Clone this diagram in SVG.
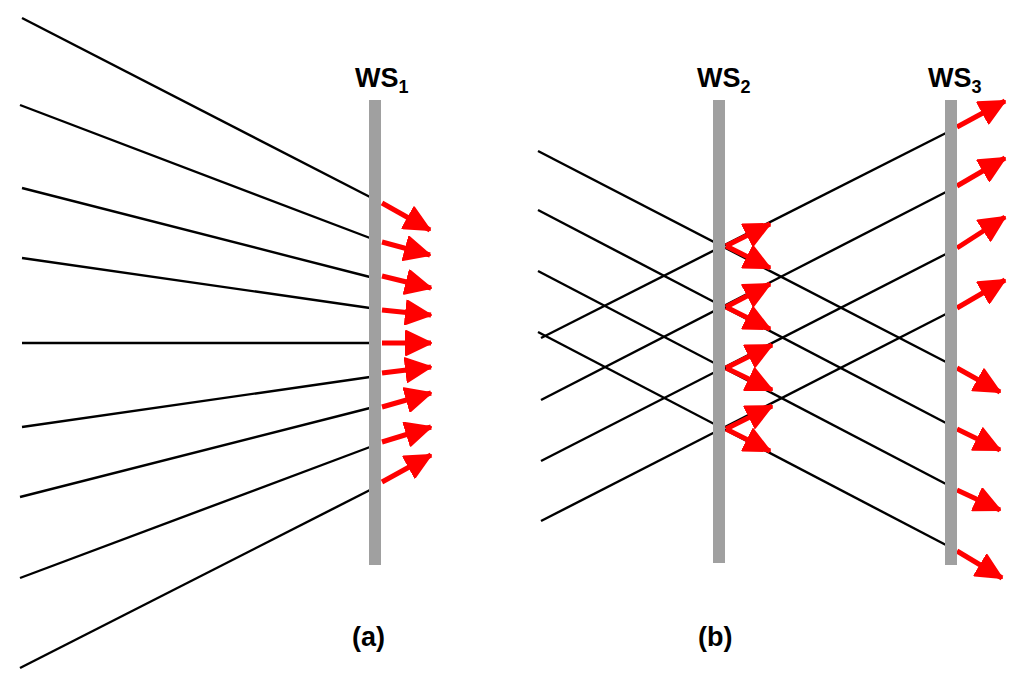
<svg xmlns="http://www.w3.org/2000/svg" width="1024" height="680" viewBox="0 0 1024 680">
<style>
.k{stroke:#000;stroke-width:2.4;fill:none}
.r{stroke:#f00;stroke-width:5;fill:none;marker-end:url(#ah)}
.bar{fill:#a0a0a0}
.t{font-family:"Liberation Sans",Arial,sans-serif;font-weight:bold;font-size:27px;fill:#000}
</style>
<defs>
<marker id="ah" markerUnits="userSpaceOnUse" markerWidth="28" markerHeight="26" refX="26" refY="13" orient="auto" viewBox="0 0 28 26">
<path d="M1,1 L26,13 L1,25 Z" fill="#f00" stroke="#f00" stroke-width="2" stroke-linejoin="round"/>
</marker>
</defs>
<rect width="1024" height="680" fill="#fff"/>
<g id="connectors">
<line class="k" x1="22" y1="18" x2="370" y2="197"/>
<line class="k" x1="20" y1="105" x2="370" y2="238"/>
<line class="k" x1="22" y1="188" x2="370" y2="277"/>
<line class="k" x1="22" y1="258" x2="370" y2="308"/>
<line class="k" x1="22" y1="343" x2="370" y2="343"/>
<line class="k" x1="22" y1="427" x2="370" y2="377"/>
<line class="k" x1="20" y1="497" x2="370" y2="408"/>
<line class="k" x1="20" y1="578" x2="370" y2="447"/>
<line class="k" x1="20" y1="668" x2="370" y2="490"/>
<line class="r" x1="382" y1="203" x2="430" y2="230"/>
<line class="r" x1="382" y1="242" x2="430" y2="255"/>
<line class="r" x1="382" y1="276" x2="431" y2="288"/>
<line class="r" x1="382" y1="310" x2="431" y2="315"/>
<line class="r" x1="382" y1="343" x2="431" y2="343"/>
<line class="r" x1="382" y1="373" x2="431" y2="367"/>
<line class="r" x1="382" y1="407" x2="431" y2="393"/>
<line class="r" x1="382" y1="442" x2="431" y2="427"/>
<line class="r" x1="382" y1="482" x2="431" y2="455"/>

<line class="k" x1="538" y1="151" x2="946" y2="362"/>
<line class="k" x1="538" y1="210" x2="946" y2="423"/>
<line class="k" x1="538" y1="271" x2="946" y2="484"/>
<line class="k" x1="538" y1="332" x2="946" y2="545"/>
<line class="k" x1="541" y1="338" x2="946" y2="133"/>
<line class="k" x1="541" y1="400" x2="946" y2="192"/>
<line class="k" x1="541" y1="461" x2="946" y2="254"/>
<line class="k" x1="541" y1="521" x2="946" y2="314"/>

<line class="r" x1="726" y1="246" x2="770" y2="224"/>
<line class="r" x1="726" y1="246" x2="770" y2="268"/>
<line class="r" x1="726" y1="307" x2="770" y2="284"/>
<line class="r" x1="726" y1="307" x2="770" y2="329"/>
<line class="r" x1="726" y1="368" x2="772" y2="345"/>
<line class="r" x1="726" y1="368" x2="772" y2="390"/>
<line class="r" x1="726" y1="429" x2="772" y2="406"/>
<line class="r" x1="726" y1="429" x2="770" y2="451"/>

<line class="r" x1="957" y1="127" x2="1005" y2="101"/>
<line class="r" x1="957" y1="186" x2="1005" y2="158"/>
<line class="r" x1="957" y1="248" x2="1005" y2="217"/>
<line class="r" x1="957" y1="308" x2="1005" y2="280"/>
<line class="r" x1="957" y1="368" x2="1000" y2="392"/>
<line class="r" x1="957" y1="429" x2="1000" y2="450"/>
<line class="r" x1="957" y1="490" x2="1000" y2="510"/>
<line class="r" x1="957" y1="551" x2="1002" y2="578"/>
</g>
<g id="ws1"><rect class="bar" x="369" y="100" width="12" height="465"/><text class="t" x="355" y="87">WS<tspan font-size="18" dy="6">1</tspan></text></g>
<g id="ws2"><rect class="bar" x="713" y="100" width="12" height="463"/><text class="t" x="697" y="87">WS<tspan font-size="18" dy="6">2</tspan></text></g>
<g id="ws3"><rect class="bar" x="945" y="100" width="12" height="465"/><text class="t" x="928" y="87">WS<tspan font-size="18" dy="6">3</tspan></text></g>
<g id="label-a"><text class="t" x="352" y="646">(a)</text></g>
<g id="label-b"><text class="t" x="698" y="646">(b)</text></g>
</svg>
